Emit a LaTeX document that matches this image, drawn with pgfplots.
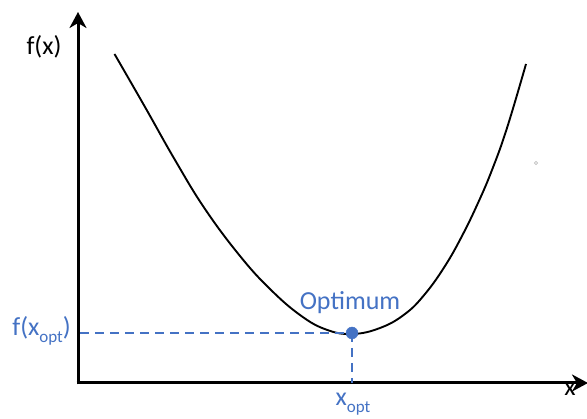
\documentclass[border=0pt]{standalone}
\usepackage{fontspec}
\setmainfont{Carlito}
\usepackage{pgfplots}
\pgfplotsset{compat=1.18}
\usetikzlibrary{arrows.meta}
\definecolor{optblue}{HTML}{4472C4}
\newcommand{\sub}[1]{\raisebox{-0.28em}{\fontsize{17}{19}\selectfont #1}}
\tikzset{big/.style={font=\fontsize{26}{30}\selectfont}}
\begin{document}
\begin{tikzpicture}
\begin{axis}[
  scale only axis, width=587pt, height=419pt,
  xmin=0, xmax=587, ymin=0, ymax=419, y dir=reverse,
  hide axis, clip=false,
]
% axes
\addplot[black, line width=3pt, -{Stealth[length=16pt,width=17pt,inset=5pt]}] coordinates {(78,384.5) (78,12)};
\addplot[black, line width=3pt, -{Stealth[length=16pt,width=17pt,inset=5pt]}] coordinates {(76.5,383) (588,383)};
% curve
\addplot[black, line width=1.9pt, smooth, tension=0.7] coordinates {
(114.5,54) (145,107) (175,160) (205,209) (240,256)
(270,289) (300,315) (326,329.5) (352,334)
(380,328) (405,314) (425,294) (445,266) (462,236)
(478,203) (492,170) (507,128) (526,64)};
% dashed guides
\addplot[optblue, line width=2pt, dash pattern=on 9pt off 6pt] coordinates {(80,333) (352,333)};
\addplot[optblue, line width=2pt, dash pattern=on 9pt off 6pt] coordinates {(352,333) (352,383)};
% optimum point
\addplot[only marks, mark=*, mark size=6pt, optblue] coordinates {(352,333)};
% tiny artefact dot
\addplot[only marks, mark=o, mark size=1.6pt, black!25, line width=0.6pt] coordinates {(536,163)};
% labels
\node[big, anchor=center] at (axis cs:44,47) {f(x)};
\node[big, anchor=center] at (axis cs:570,389) {x};
\node[big, anchor=center, text=optblue] at (axis cs:350,303) {Optimum};
\node[big, anchor=east, text=optblue, inner sep=0pt] at (axis cs:71,331) {f(x\sub{opt})};
\node[big, anchor=center, text=optblue, inner sep=0pt] at (axis cs:353,404) {x\sub{opt}};
\end{axis}
\pgfresetboundingbox
\useasboundingbox (0,0) rectangle (587pt,419pt);
\end{tikzpicture}
\end{document}
